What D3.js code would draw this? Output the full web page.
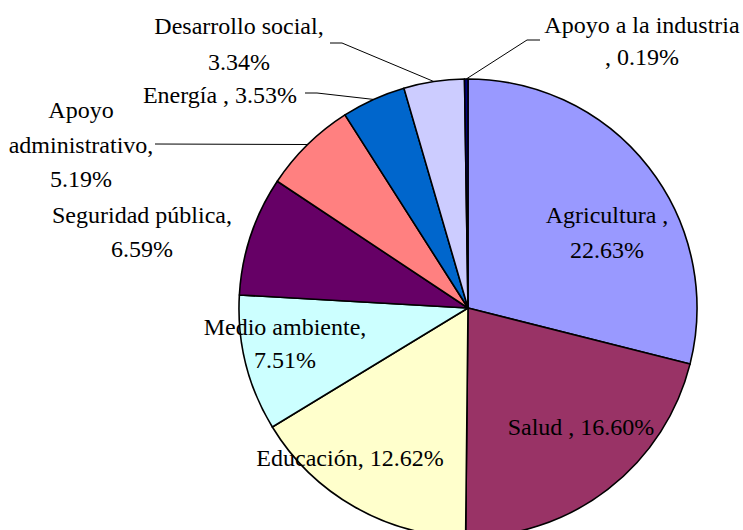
<!DOCTYPE html>
<html><head><meta charset="utf-8"><script src="https://cdn.jsdelivr.net/npm/d3@7"></script></head>
<body style="margin:0">
<div id="chart"></div>
<script>
// data (percent of total budget)
var categories = ["Agricultura ", "Salud ", "Educación", "Medio ambiente", "Seguridad pública",
                  "Apoyo\nadministrativo", "Energía ", "Desarrollo social", "Apoyo a la industria "];
var values = [22.63, 16.60, 12.62, 7.51, 6.59, 5.19, 3.53, 3.34, 0.19];
var colors = ["#9999FF", "#993366", "#FFFFCC", "#CCFFFF", "#660066",
              "#FF8080", "#0066CC", "#CCCCFF", "#000080"];

// label placement (center x, first baseline y, line gap, wrap after comma, leader start)
var labelLayout = [
    {x: 607, y: 223, gap: 35, wrap: true},
    {x: 581, y: 435, gap: 35, wrap: false},
    {x: 350, y: 466, gap: 35, wrap: false},
    {x: 285, y: 335, gap: 33, wrap: true},
    {x: 142, y: 223, gap: 34, wrap: true},
    {x: 81,  y: 118, gap: 34.5, wrap: true, leader: [[155, 144]]},
    {x: 220, y: 103, gap: 35, wrap: false, leader: [[305, 93], [317, 93]]},
    {x: 239, y: 34,  gap: 36, wrap: true, leader: [[330, 43], [342, 43]]},
    {x: 642, y: 33,  gap: 32, wrap: true, leader: [[540, 40], [527, 40]]}
];

var width = 743, height = 530;
var cx = 468, cy = 308, radius = 229;

var svg = d3.select("#chart")
    .append("svg")
    .attr("width", width)
    .attr("height", height);

var data = categories.map(function(c, i) { return {name: c, value: values[i], i: i}; });

var pie = d3.pie()
    .sort(null)
    .value(function(d) { return d.value; });

var arc = d3.arc()
    .innerRadius(0)
    .outerRadius(radius);

var arcs = pie(data);

var g = svg.append("g")
    .attr("transform", "translate(" + cx + "," + cy + ")");

g.selectAll("path")
    .data(arcs)
    .enter()
    .append("path")
    .attr("d", arc)
    .attr("fill", function(d) { return colors[d.data.i]; })
    .attr("stroke", "#000")
    .attr("stroke-width", 1.6)
    .attr("stroke-linejoin", "round");

// leader lines: from label to the slice edge at its middle angle
var line = d3.line();
arcs.forEach(function(a, i) {
    var lay = labelLayout[i];
    if (!lay.leader) return;
    var mid = (a.startAngle + a.endAngle) / 2;
    var edge = [cx + radius * Math.sin(mid), cy - radius * Math.cos(mid)];
    svg.append("path")
        .attr("d", line(lay.leader.concat([edge])))
        .attr("fill", "none")
        .attr("stroke", "#000")
        .attr("stroke-width", 1);
});

// labels, one text element per line, centred by measuring
arcs.forEach(function(a, i) {
    var lay = labelLayout[i];
    var pct = a.data.value.toFixed(2) + "%";
    var nameLines = a.data.name.split("\n");
    var lines;
    if (lay.wrap) {
        nameLines[nameLines.length - 1] += ",";
        lines = nameLines.concat([(i === 8 ? ", " : "") + pct]);
        if (i === 8) lines[0] = lines[0].replace(/ ,$/, "");
    } else {
        lines = [nameLines.join(" ") + ", " + pct];
    }
    lines.forEach(function(s, k) {
        var t = svg.append("text")
            .attr("y", lay.y + k * lay.gap)
            .attr("font-family", "Liberation Serif")
            .attr("font-size", 24)
            .text(s);
        var w = t.node().getComputedTextLength();
        t.attr("x", lay.x - w / 2);
    });
});
</script>
</body>
</html>
